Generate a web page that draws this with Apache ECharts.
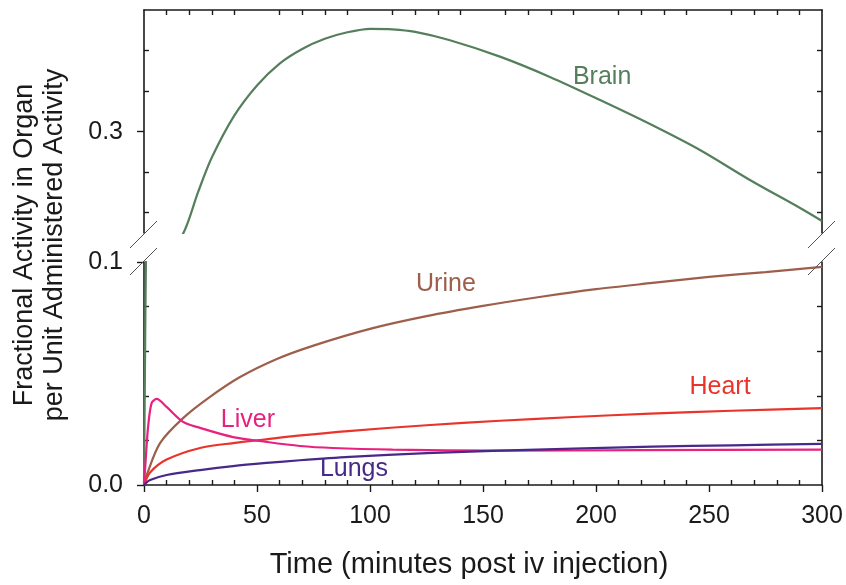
<!DOCTYPE html>
<html>
<head>
<meta charset="utf-8">
<script src="https://cdn.jsdelivr.net/npm/echarts@6/dist/echarts.min.js"></script>
<style>
  html, body { margin: 0; padding: 0; background: #ffffff; }
  #chart { width: 846px; height: 585px; }
</style>
</head>
<body>
<div id="chart"></div>
<script>
// Time points (minutes) and fractional activity per organ
const brainT = [0, 0.4, 0.9, 1.5, 5, 10, 17, 24, 30, 40, 50, 60, 70, 80, 90, 100, 110, 120, 135, 157.5, 179.6, 201.8, 223.9, 246, 268.1, 290.3, 300];
const brainV = [0, 0.05, 0.105, 0.125, 0.14, 0.155, 0.1725, 0.226, 0.268, 0.320, 0.357, 0.384, 0.402, 0.4145, 0.4225, 0.4268, 0.4262, 0.4230, 0.4130, 0.3925, 0.3675, 0.339, 0.3094, 0.2774, 0.2404, 0.2058, 0.1898];

const urineT = [0, 1.2, 7.1, 17.3, 29.2, 42.5, 58.8, 75, 100, 125, 150, 175, 200, 225, 250, 275, 300];
const urineV = [0, 0.0045, 0.0188, 0.030, 0.0395, 0.0484, 0.0565, 0.0625, 0.0700, 0.0757, 0.0803, 0.0843, 0.0878, 0.0906, 0.0933, 0.0955, 0.0978];

const heartT = [0, 2.7, 10, 24.8, 39.4, 54, 68.1, 90.3, 125, 157.5, 190, 224, 260, 300];
const heartV = [0, 0.0056, 0.0114, 0.0166, 0.0188, 0.0205, 0.0221, 0.0242, 0.0268, 0.0288, 0.0305, 0.0320, 0.0333, 0.0345];

const liverT = [0, 0.8, 1.8, 3.4, 5.6, 10, 17.3, 24.8, 39.4, 54.3, 69, 83.6, 110, 157.5, 220, 300];
const liverV = [0, 0.012, 0.026, 0.0368, 0.0386, 0.035, 0.0283, 0.0256, 0.0215, 0.0193, 0.0175, 0.0166, 0.0159, 0.0154, 0.0156, 0.0159];

const lungsT = [0, 2.7, 10, 24.8, 39.4, 54.3, 69, 91, 125, 157.5, 190, 225, 260, 300];
const lungsV = [0, 0.0022, 0.0045, 0.0067, 0.0085, 0.0099, 0.0111, 0.0126, 0.0143, 0.0154, 0.0163, 0.0172, 0.0178, 0.0184];

// Axis ticks and labels
const xLabelValues = [0, 50, 100, 150, 200, 250, 300];
const xMinorValues = [10, 20, 30, 40, 60, 70, 80, 90, 110, 120, 130, 140, 160, 170, 180, 190, 210, 220, 230, 240, 260, 270, 280, 290];
const upperLabelValues = [0.3];
const upperMinorValues = [0.2, 0.25, 0.35, 0.4];
const lowerLabelValues = [0, 0.1];
const lowerMinorValues = [0.02, 0.04, 0.06, 0.08];

// Organ names and where each name sits (data coordinates)
const organNames = ['Brain', 'Urine', 'Heart', 'Liver', 'Lungs'];
const nameAnchors = [[202.7, 0.3674], [133.6, 0.0901], [254.9, 0.0439], [46, 0.0291], [92.9, 0.0072]];

const colors = {
  Brain: '#557f5c',
  Urine: '#9e5e4c',
  Heart: '#e8342b',
  Liver: '#e8217f',
  Lungs: '#48298a'
};

const zip = (t, v) => t.map((x, i) => [x, v[i]]);

// Layout
const PLOT_LEFT = 144, PLOT_RIGHT = 822;
const UPPER_TOP = 10, UPPER_H = 223;
const LOWER_TOP = 262, LOWER_H = 223;
const INK = '#1a1a1a';
const FONT = 'Liberation Sans, Arial, sans-serif';
const LINE = { show: true, onZero: false, lineStyle: { color: INK, width: 1.6 } };

function nameMark(name) {
  const i = organNames.indexOf(name);
  return {
    silent: true,
    symbol: 'rect',
    symbolSize: 1,
    itemStyle: { color: 'rgba(0,0,0,0)' },
    label: {
      show: true, position: 'inside', formatter: name,
      color: colors[name], fontSize: 25, fontFamily: FONT
    },
    data: [{ coord: nameAnchors[i] }]
  };
}

function lineSeries(name, data, xIdx, yIdx, withName) {
  return {
    type: 'line', name, data,
    xAxisIndex: xIdx, yAxisIndex: yIdx,
    showSymbol: false, symbol: 'none',
    smooth: 0.3,
    clip: true,
    lineStyle: { color: colors[name], width: 2.2 },
    itemStyle: { color: colors[name] },
    markPoint: withName ? nameMark(name) : undefined,
    z: 3
  };
}

const chart = echarts.init(document.getElementById('chart'), null, { renderer: 'canvas' });

const brainData = zip(brainT, brainV);

const option = {
  animation: false,
  backgroundColor: '#ffffff',
  grid: [
    { left: PLOT_LEFT, width: PLOT_RIGHT - PLOT_LEFT, top: UPPER_TOP, height: UPPER_H, outerBoundsMode: 'none', containLabel: false },
    { left: PLOT_LEFT, width: PLOT_RIGHT - PLOT_LEFT, top: LOWER_TOP, height: LOWER_H, outerBoundsMode: 'none', containLabel: false }
  ],
  xAxis: [
    { // upper frame edge with inward ticks
      type: 'value', gridIndex: 0, position: 'top', min: 0, max: 300,
      axisLine: LINE,
      axisTick: { show: true, inside: true, length: 5, customValues: xMinorValues, lineStyle: { color: INK, width: 1.4 } },
      axisLabel: { show: false }, splitLine: { show: false }
    },
    { // time axis
      type: 'value', gridIndex: 1, position: 'bottom', min: 0, max: 300, interval: 50,
      axisLine: LINE,
      axisTick: { show: true, inside: false, length: 7, customValues: xLabelValues, lineStyle: { color: INK, width: 1.4 } },
      axisLabel: { show: true, customValues: xLabelValues, color: INK, fontSize: 25, fontFamily: FONT, margin: 19 },
      splitLine: { show: false },
      name: 'Time (minutes post iv injection)',
      nameLocation: 'middle', nameGap: 65,
      nameTextStyle: { color: INK, fontSize: 29, fontFamily: FONT, padding: [0, 28, 0, 0] }
    },
    { // minor inward ticks on the time axis
      type: 'value', gridIndex: 1, position: 'bottom', min: 0, max: 300,
      axisLine: { show: false, onZero: false },
      axisTick: { show: true, inside: true, length: 5, customValues: xMinorValues, lineStyle: { color: INK, width: 1.4 } },
      axisLabel: { show: false }, splitLine: { show: false }
    }
  ],
  yAxis: [
    { // upper segment, left
      type: 'value', gridIndex: 0, position: 'left', min: 0.175, max: 0.45,
      axisLine: LINE,
      axisTick: { show: true, inside: false, length: 7, customValues: upperLabelValues, lineStyle: { color: INK, width: 1.4 } },
      axisLabel: { show: true, customValues: upperLabelValues, formatter: v => v.toFixed(1), color: INK, fontSize: 25, fontFamily: FONT, margin: 21 },
      splitLine: { show: false }
    },
    { // upper segment, left, minor ticks
      type: 'value', gridIndex: 0, position: 'left', min: 0.175, max: 0.45,
      axisLine: { show: false, onZero: false },
      axisTick: { show: true, inside: true, length: 5, customValues: upperMinorValues, lineStyle: { color: INK, width: 1.4 } },
      axisLabel: { show: false }, splitLine: { show: false }
    },
    { // upper segment, right frame
      type: 'value', gridIndex: 0, position: 'right', min: 0.175, max: 0.45,
      axisLine: LINE,
      axisTick: { show: true, inside: true, length: 5, customValues: upperMinorValues.concat(upperLabelValues), lineStyle: { color: INK, width: 1.4 } },
      axisLabel: { show: false }, splitLine: { show: false }
    },
    { // lower segment, left
      type: 'value', gridIndex: 1, position: 'left', min: 0, max: 0.1,
      axisLine: LINE,
      axisTick: { show: true, inside: false, length: 7, customValues: lowerLabelValues, lineStyle: { color: INK, width: 1.4 } },
      axisLabel: { show: true, customValues: lowerLabelValues, formatter: v => v.toFixed(1), color: INK, fontSize: 25, fontFamily: FONT, margin: 21 },
      splitLine: { show: false }
    },
    { // lower segment, left, minor ticks
      type: 'value', gridIndex: 1, position: 'left', min: 0, max: 0.1,
      axisLine: { show: false, onZero: false },
      axisTick: { show: true, inside: true, length: 5, customValues: lowerMinorValues, lineStyle: { color: INK, width: 1.4 } },
      axisLabel: { show: false }, splitLine: { show: false }
    },
    { // lower segment, right frame
      type: 'value', gridIndex: 1, position: 'right', min: 0, max: 0.1,
      axisLine: LINE,
      axisTick: { show: true, inside: true, length: 5, customValues: lowerMinorValues, lineStyle: { color: INK, width: 1.4 } },
      axisLabel: { show: false }, splitLine: { show: false }
    }
  ],
  series: [
    lineSeries('Brain', brainData, 0, 0, true),
    lineSeries('Brain', brainData, 1, 3, false),
    lineSeries('Urine', zip(urineT, urineV), 1, 3, true),
    lineSeries('Heart', zip(heartT, heartV), 1, 3, true),
    lineSeries('Liver', zip(liverT, liverV), 1, 3, true),
    lineSeries('Lungs', zip(lungsT, lungsV), 1, 3, true)
  ]
};

chart.setOption(option);

// Break marks on both vertical edges, placed between the two segments
const upperBottom = UPPER_TOP + UPPER_H;
const breakMarks = [];
[PLOT_LEFT, PLOT_RIGHT].forEach(x => {
  [upperBottom + 1, LOWER_TOP - 1].forEach(yc => {
    breakMarks.push({
      type: 'line', silent: true, z: 10,
      shape: { x1: x - 14, y1: yc + 14, x2: x + 13, y2: yc - 13 },
      style: { stroke: '#555555', lineWidth: 1 }
    });
  });
});

chart.setOption({
  graphic: breakMarks.concat([
    {
      type: 'text', silent: true,
      x: 40, y: 245, rotation: Math.PI / 2,
      style: {
        text: 'Fractional Activity in Organ\nper Unit Administered Activity',
        fill: INK, font: '27px ' + FONT, lineHeight: 30,
        align: 'center', verticalAlign: 'middle'
      }
    }
  ])
});
</script>
</body>
</html>
